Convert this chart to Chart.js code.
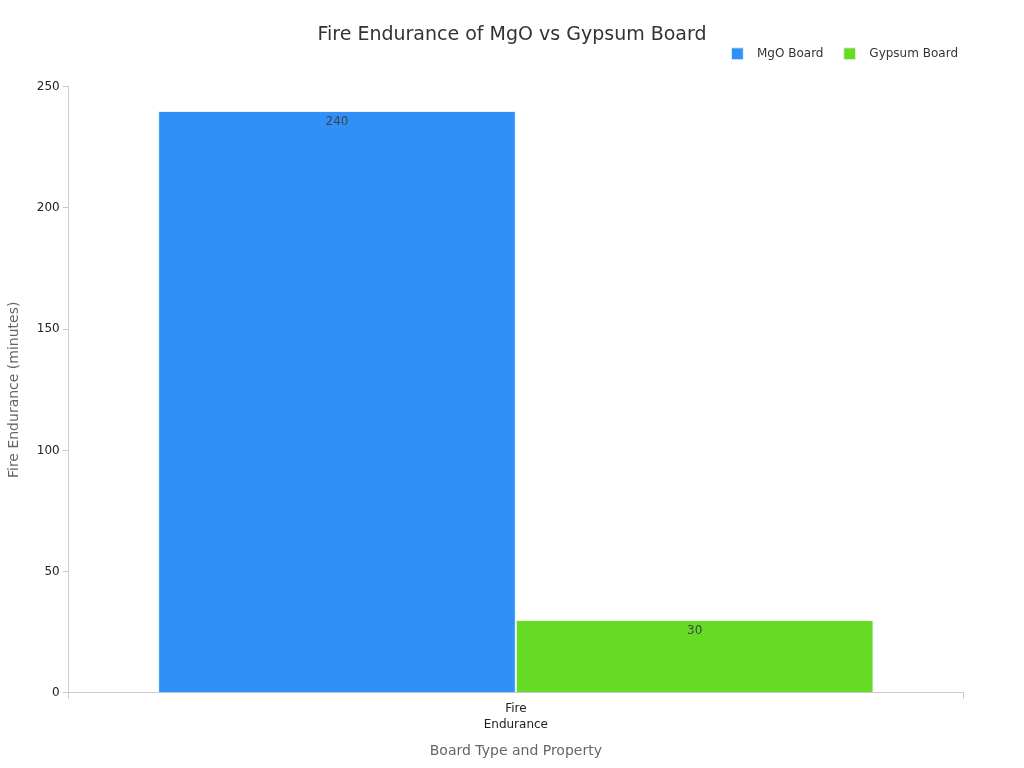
<!DOCTYPE html>
<html>
<head>
<meta charset="utf-8">
<script src="https://cdn.jsdelivr.net/npm/chart.js@4"></script>
<style>
html,body{margin:0;padding:0;background:#fff;}
#wrap{width:1024px;height:768px;}
</style>
</head>
<body>
<div id="wrap"><canvas id="c" width="1024" height="768"></canvas></div>
<script>
const categories = [["Fire", "Endurance"]];
const seriesNames = ["MgO Board", "Gypsum Board"];
const mgoValues = [240];
const gypsumValues = [30];
const yTicks = [0, 50, 100, 150, 200, 250];

const FONT = "'DejaVu Sans', sans-serif";

const valueLabels = {
  id: 'valueLabels',
  afterDatasetsDraw(chart) {
    const ctx = chart.ctx;
    ctx.save();
    ctx.font = "12px " + FONT;
    ctx.fillStyle = '#444';
    ctx.textAlign = 'center';
    ctx.textBaseline = 'middle';
    chart.data.datasets.forEach((ds, i) => {
      chart.getDatasetMeta(i).data.forEach((el, j) => {
        ctx.fillText(String(ds.data[j]), el.x, el.y + 11);
      });
    });
    ctx.restore();
  }
};

new Chart(document.getElementById('c'), {
  type: 'bar',
  data: {
    labels: categories,
    datasets: [
      { label: seriesNames[0], data: mgoValues, backgroundColor: '#2f90f8', borderColor: '#e8f2fe', borderWidth: 1, yAxisID: 'y' },
      { label: seriesNames[1], data: gypsumValues, backgroundColor: '#66db26', borderColor: '#eefbe6', borderWidth: 1, yAxisID: 'y' }
    ]
  },
  options: {
    responsive: false,
    animation: false,
    devicePixelRatio: 1,
    layout: { padding: { left: 2, right: 2, top: 24, bottom: 4 } },
    datasets: { bar: { categoryPercentage: 0.8, barPercentage: 1.0 } },
    plugins: {
      title: {
        display: true,
        text: 'Fire Endurance of MgO vs Gypsum Board',
        color: '#333',
        font: { family: FONT, size: 19, weight: 'normal' },
        padding: { top: 0, bottom: -4 }
      },
      subtitle: {
        display: true,
        text: ' ',
        weight: 500,
        font: { family: FONT, size: 10, lineHeight: 1.7 },
        padding: 0
      },
      legend: {
        position: 'top',
        align: 'end',
        fullSize: false,
        labels: {
          color: '#333',
          font: { family: FONT, size: 12 },
          boxWidth: 12,
          boxHeight: 12,
          padding: 5,
          generateLabels(chart) {
            const items = Chart.defaults.plugins.legend.labels.generateLabels(chart);
            items.forEach((it, k) => {
              it.text = '  ' + it.text + (k < items.length - 1 ? '    ' : '');
            });
            return items;
          }
        }
      },
      tooltip: { enabled: false }
    },
    scales: {
      x: {
        grid: { drawOnChartArea: false, drawTicks: true, tickLength: 6, color: '#ccc' },
        border: { color: '#ccc' },
        ticks: { color: '#222', font: { family: FONT, size: 12, lineHeight: 1.35 }, padding: 2 },
        title: { display: true, text: 'Board Type and Property', color: '#666', font: { family: FONT, size: 14 }, padding: { top: 8 } }
      },
      y: {
        min: 0,
        max: 250,
        afterBuildTicks(axis) { axis.ticks = yTicks.map(v => ({ value: v })); },
        grid: { drawOnChartArea: false, drawTicks: true, tickLength: 6, color: '#ccc' },
        border: { color: '#ccc' },
        ticks: { color: '#222', font: { family: FONT, size: 12 }, padding: 3 },
        title: { display: true, text: 'Fire Endurance (minutes)', color: '#666', font: { family: FONT, size: 14 }, padding: { bottom: 11 } }
      },
      yRight: {
        position: 'right',
        display: true,
        grid: { display: false },
        border: { display: false },
        ticks: { display: false },
        afterFit(axis) { axis.width = 59; }
      }
    }
  },
  plugins: [valueLabels]
});
</script>
</body>
</html>
